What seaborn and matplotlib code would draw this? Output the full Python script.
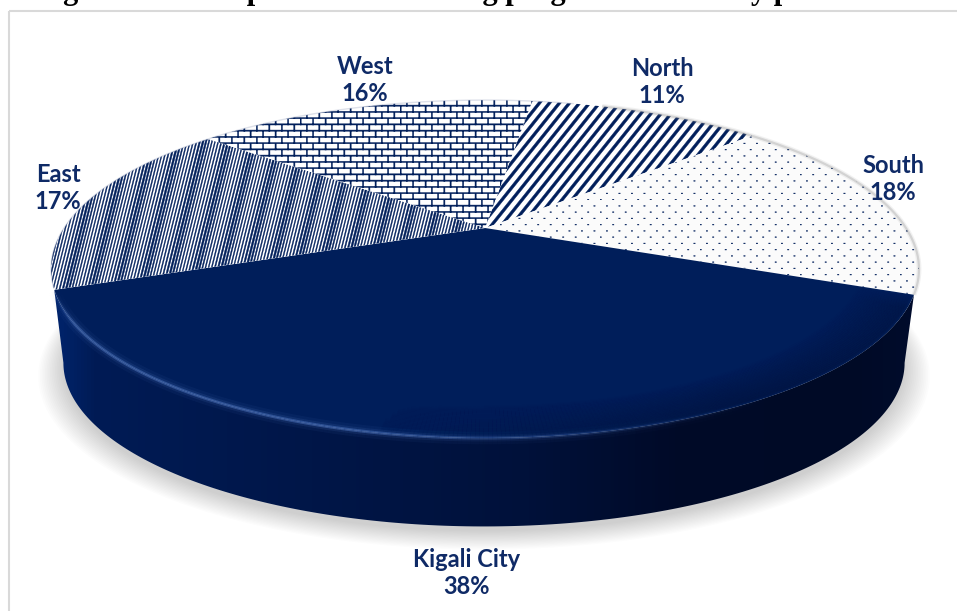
import numpy as np
import matplotlib
matplotlib.use('Agg')
import matplotlib.pyplot as plt
import matplotlib.hatch as mhatch
from matplotlib.collections import LineCollection
from matplotlib.colors import LinearSegmentedColormap, to_rgb
from matplotlib.path import Path
from matplotlib.patches import Polygon, Rectangle
from matplotlib.transforms import Transform
import seaborn as sns

names = ['North', 'South', 'Kigali City', 'East', 'West']
shares = [11, 18, 38, 17, 16]
hatches = ['/', '.', None, '|', 'x']
label_pos = [(662, 82), (893, 179), (467, 573), (58, 188), (365, 80)]

title = 'Figure 3.11: Respondents attending programmes run by province'

NAVY = '#001e5a'
TEXT = '#0f2a66'
TILT_K = 0.243


#perspective view of the flat pie, output is in image pixels
class Tilt(Transform):
    input_dims = 2
    output_dims = 2

    def __init__(self, hub_x, hub_y, r, s, k):
        super().__init__()
        self.hub_x, self.hub_y, self.r, self.s, self.k = hub_x, hub_y, r, s, k

    def transform_non_affine(self, values):
        values = np.asarray(values, dtype=float)
        w = 1 + self.k * values[:, 1]
        return np.column_stack([self.hub_x + self.r * values[:, 0] / w,
                                self.hub_y - self.s * values[:, 1] / w])


#hatch fill patterns, polygons in a unit tile
class PolyHatch(mhatch.HatchPatternBase):
    char = ''

    def __init__(self, hatch, density):
        self.polys = self.tile() if self.char in hatch else []
        self.num_vertices = len(self.polys) * 5

    def tile(self):
        return []

    def set_vertices_and_codes(self, vertices, codes):
        for i, poly in enumerate(self.polys):
            vertices[i * 5:i * 5 + 4] = poly
            vertices[i * 5 + 4] = poly[0]
            codes[i * 5:i * 5 + 5] = [Path.MOVETO, Path.LINETO, Path.LINETO, Path.LINETO, Path.CLOSEPOLY]


def box(x0, y0, x1, y1):
    return [(x0, y0), (x1, y0), (x1, y1), (x0, y1)]


class BrickHatch(PolyHatch):
    char = 'x'

    def tile(self):
        polys = []
        for row in range(16):
            y = row / 16
            polys.append(box(0, y, 1, y + 0.012))
            for col in range(8):
                x = (col + 0.5 * (row % 2)) / 8
                polys.append(box(x, y, x + 0.012, y + 1 / 16))
        return polys


class StripeHatch(PolyHatch):
    char = '/'

    def tile(self):
        return [[(i / 10, 0), (i / 10 + 0.036, 0), ((i + 8) / 10 + 0.036, 1), ((i + 8) / 10, 1)]
                for i in range(-8, 10)]


class PinHatch(PolyHatch):
    char = '|'

    def tile(self):
        widths = [0.009, 0.010, 0.012, 0.016, 0.019, 0.016, 0.012, 0.010]
        return [[(i / 32, 0), (i / 32 + widths[i % 8], 0),
                 ((i + 8) / 32 + widths[i % 8], 1), ((i + 8) / 32, 1)]
                for i in range(-8, 32)]


class DotHatch(PolyHatch):
    char = '.'

    def tile(self):
        polys = []
        for row in range(16):
            for col in range(8):
                x = (col + 0.5 * (row % 2)) / 8
                y = row / 16
                polys.append(box(x, y, x + 0.014, y + 0.007))
        return polys


mhatch._hatch_types[:] = [BrickHatch, StripeHatch, PinHatch, DotHatch]

sns.set_theme(style='white')
plt.rcParams['font.family'] = ['Lato', 'DejaVu Sans']
plt.rcParams['hatch.linewidth'] = 0.3

fig = plt.figure(figsize=(9.57, 6.11), dpi=100)
ax = fig.add_axes([0, 0, 1, 1])

top = Tilt(485, 228, 421, 159, TILT_K)
bottom = Tilt(484, 323, 408, 154, TILT_K)


def rim(tilt, t0, t1, radius=1.0, n=200):
    t = np.radians(np.linspace(t0, t1, n))
    return tilt.transform_non_affine(np.column_stack([radius * np.cos(t), radius * np.sin(t)]))


#the pie itself
wedges, _ = ax.pie(shares, startangle=82, counterclock=False, radius=1,
                   colors=['white', '#fbfbfb', NAVY, 'white', 'white'],
                   wedgeprops=dict(linewidth=0))
ax.set_aspect('auto')
for wedge, hatch in zip(wedges, hatches):
    wedge.set_transform(top + ax.transData)
    wedge.set_zorder(5)
    if hatch:
        wedge.set_edgecolor(NAVY)
        wedge.set_hatch(hatch)

kigali = wedges[2]
t_start, t_end = kigali.theta1, kigali.theta2

#soft shadow under the disc
for i in range(16):
    grow = 1.06 - i * 0.004
    ax.fill(*rim(Tilt(484, 334 - i * 0.4, 408 * grow, 154 * grow, TILT_K), 0, 360).T,
            color='#000000', alpha=0.012, lw=0, zorder=1)
ax.fill(*rim(top, 0, 360).T, color='white', lw=0, zorder=1.5)

#side wall with a horizontal gradient, bottom rim runs between its widest points
wall_cmap = LinearSegmentedColormap.from_list('wall', [
    (0.00, '#00256e'), (0.05, '#001b55'), (0.30, '#001648'), (0.55, '#00113a'),
    (0.72, '#000a28'), (0.92, '#000a26'), (1.00, '#000c2c')])
widest = np.degrees(np.arcsin(TILT_K))
outline = np.vstack([rim(top, t_start, t_end), rim(bottom, -widest, -180 + widest)])
im = ax.imshow(np.linspace(0, 1, 256).reshape(1, -1), cmap=wall_cmap, aspect='auto',
               extent=(50, 920, 560, 270), zorder=2)
im.set_clip_path(Polygon(outline, closed=True, transform=ax.transData))

#bevel at the front edge of the navy slice
shade = rim(top, t_start, t_end, n=300)
seg_t = np.linspace(0, 1, 299)
segs = np.stack([shade[:-1], shade[1:]], axis=1)
for width, strength in [(9, 0.08), (5, 0.15), (2.2, 0.55)]:
    glow = np.zeros((299, 4))
    glow[:, :3] = to_rgb('#4a70b8')
    glow[:, 3] = strength * np.clip(np.minimum(seg_t / 0.08, (0.75 - seg_t) / 0.35), 0, 1)
    ax.add_collection(LineCollection(segs, colors=glow, linewidths=width, zorder=6, capstyle='butt'))
for radius in np.linspace(0.995, 0.885, 24):
    inner = rim(top, t_start, t_end, radius=radius, n=300)
    inner_segs = np.stack([inner[:-1], inner[1:]], axis=1)
    dark = np.zeros((299, 4))
    dark[:, :3] = to_rgb('#000a26')
    strength = 0.16 * (radius - 0.88) / 0.115
    dark[:, 3] = strength * np.clip((seg_t - 0.42) / 0.3, 0, 1) * np.clip((1.0 - seg_t) / 0.03, 0, 1)
    ax.add_collection(LineCollection(inner_segs, colors=dark, linewidths=3, zorder=6, capstyle='butt'))

#grey lip around the hatched part of the rim
for width, strength in [(3.5, 0.10), (1.6, 0.25)]:
    ax.plot(*rim(top, t_end, 70).T, color='#7f7f7f', lw=width, alpha=strength,
            zorder=6, solid_capstyle='butt')
ax.plot(*rim(top, 75, 200).T, color='#8f9ab8', lw=1.0, alpha=0.3, zorder=6)

#text
for name, share, (x, y) in zip(names, shares, label_pos):
    ax.text(x, y, f'{name}\n{share}%', ha='center', va='center', fontsize=17,
            fontweight='bold', color=TEXT, linespacing=1.26, zorder=8)

#the caption above the chart is cut by the top of the picture
ax.text(36, -1.5, title, ha='left', va='baseline', fontsize=22, fontweight='bold',
        family='Liberation Serif', color='black', zorder=8)

#frame of the pasted chart, only top and left are in the picture
ax.add_patch(Rectangle((9, 11), 1100, 900, fill=False, edgecolor='#d9d9d9', linewidth=1.5, zorder=0.5))

ax.set_xlim(0, 957)
ax.set_ylim(611, 0)
ax.axis('off')

fig.savefig('out.png', dpi=100)
